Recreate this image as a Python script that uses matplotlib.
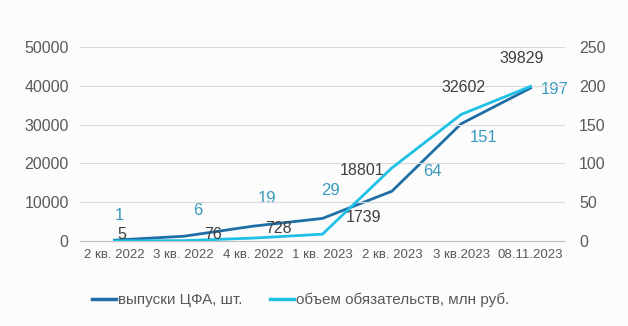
import numpy as np
import matplotlib
matplotlib.use("Agg")
import matplotlib.pyplot as plt

plt.rcParams["font.family"] = ["Liberation Sans", "DejaVu Sans"]

# -------------------------------------------------
# Data
# -------------------------------------------------
categories = ["2 кв. 2022", "3 кв. 2022", "4 кв. 2022", "1 кв. 2023",
              "2 кв. 2023", "3 кв.2023", "08.11.2023"]
issues = [1, 6, 19, 29, 64, 151, 197]                      # выпуски ЦФА, шт. (right axis)
volume = [5, 76, 728, 1739, 18801, 32602, 39829]           # объем обязательств, млн руб. (left axis)

# label offsets in pixels, as they sit in the reference
issues_off = [(5, 25), (14, 26), (14, 28), (8, 28), (41, 20), (22, -14), (24, -1)]
volume_off = [(7, 6), (29, 6), (25, 10), (41, 17), (-30, -3), (2, 27), (-9, 28)]

DARK = "#1f6fa6"
LIGHT = "#1fc0e6"
LIGHT_TXT = "#3a9bbd"
TXT = "#404040"
TICK = "#595959"

fig = plt.figure(figsize=(6.28, 3.26), dpi=100)
fig.patch.set_facecolor("#fcfcfc")
ax = fig.add_axes([0.127, 0.261, 0.773, 0.595])
ax2 = ax.twinx()
ax.set_facecolor("none")

x = np.arange(len(categories))

l1, = ax2.plot(x, issues, color=DARK, lw=2.0, zorder=3)
l2, = ax.plot(x, volume, color=LIGHT, lw=2.0, zorder=3)
ax.set_zorder(ax2.get_zorder() + 1)

ax.set_ylim(0, 50000)
ax2.set_ylim(0, 250)
ax.set_yticks(np.arange(0, 50001, 10000))
ax2.set_yticks(np.arange(0, 251, 50))
ax.set_xlim(-0.5, len(categories) - 0.5)
ax.set_xticks(x)
ax.set_xticklabels(categories)

ax.grid(axis="y", color="#d9d9d9", lw=0.8)
ax.set_axisbelow(True)
for a in (ax, ax2):
    for s in a.spines.values():
        s.set_visible(False)
    a.tick_params(length=0, colors=TICK)
ax.spines["bottom"].set_visible(True)
ax.spines["bottom"].set_color("#bfbfbf")
ax.tick_params(axis="y", labelsize=11.5, pad=8)
ax2.tick_params(axis="y", labelsize=11.5, pad=10)
ax.tick_params(axis="x", labelsize=9.5, pad=6)

for xi, v, off in zip(x, issues, issues_off):
    ax2.annotate(str(v), (xi, v), xytext=off, textcoords="offset pixels",
                 ha="center", va="center", fontsize=12, color=LIGHT_TXT, zorder=5)
for xi, v, off in zip(x, volume, volume_off):
    ax.annotate(str(v), (xi, v), xytext=off, textcoords="offset pixels",
                ha="center", va="center", fontsize=11.5, color=TXT, zorder=5)

leg = fig.legend([l1, l2], ["выпуски ЦФА, шт.", "объем обязательств, млн руб."],
                 loc="center", bbox_to_anchor=(0.478, 0.08), ncol=2, frameon=False,
                 fontsize=11, handlelength=1.6, handletextpad=0.1, columnspacing=1.8,
                 labelcolor=TICK)
for h in leg.get_lines():
    h.set_linewidth(2.5)

fig.savefig("out.png", dpi=100, facecolor=fig.get_facecolor())
